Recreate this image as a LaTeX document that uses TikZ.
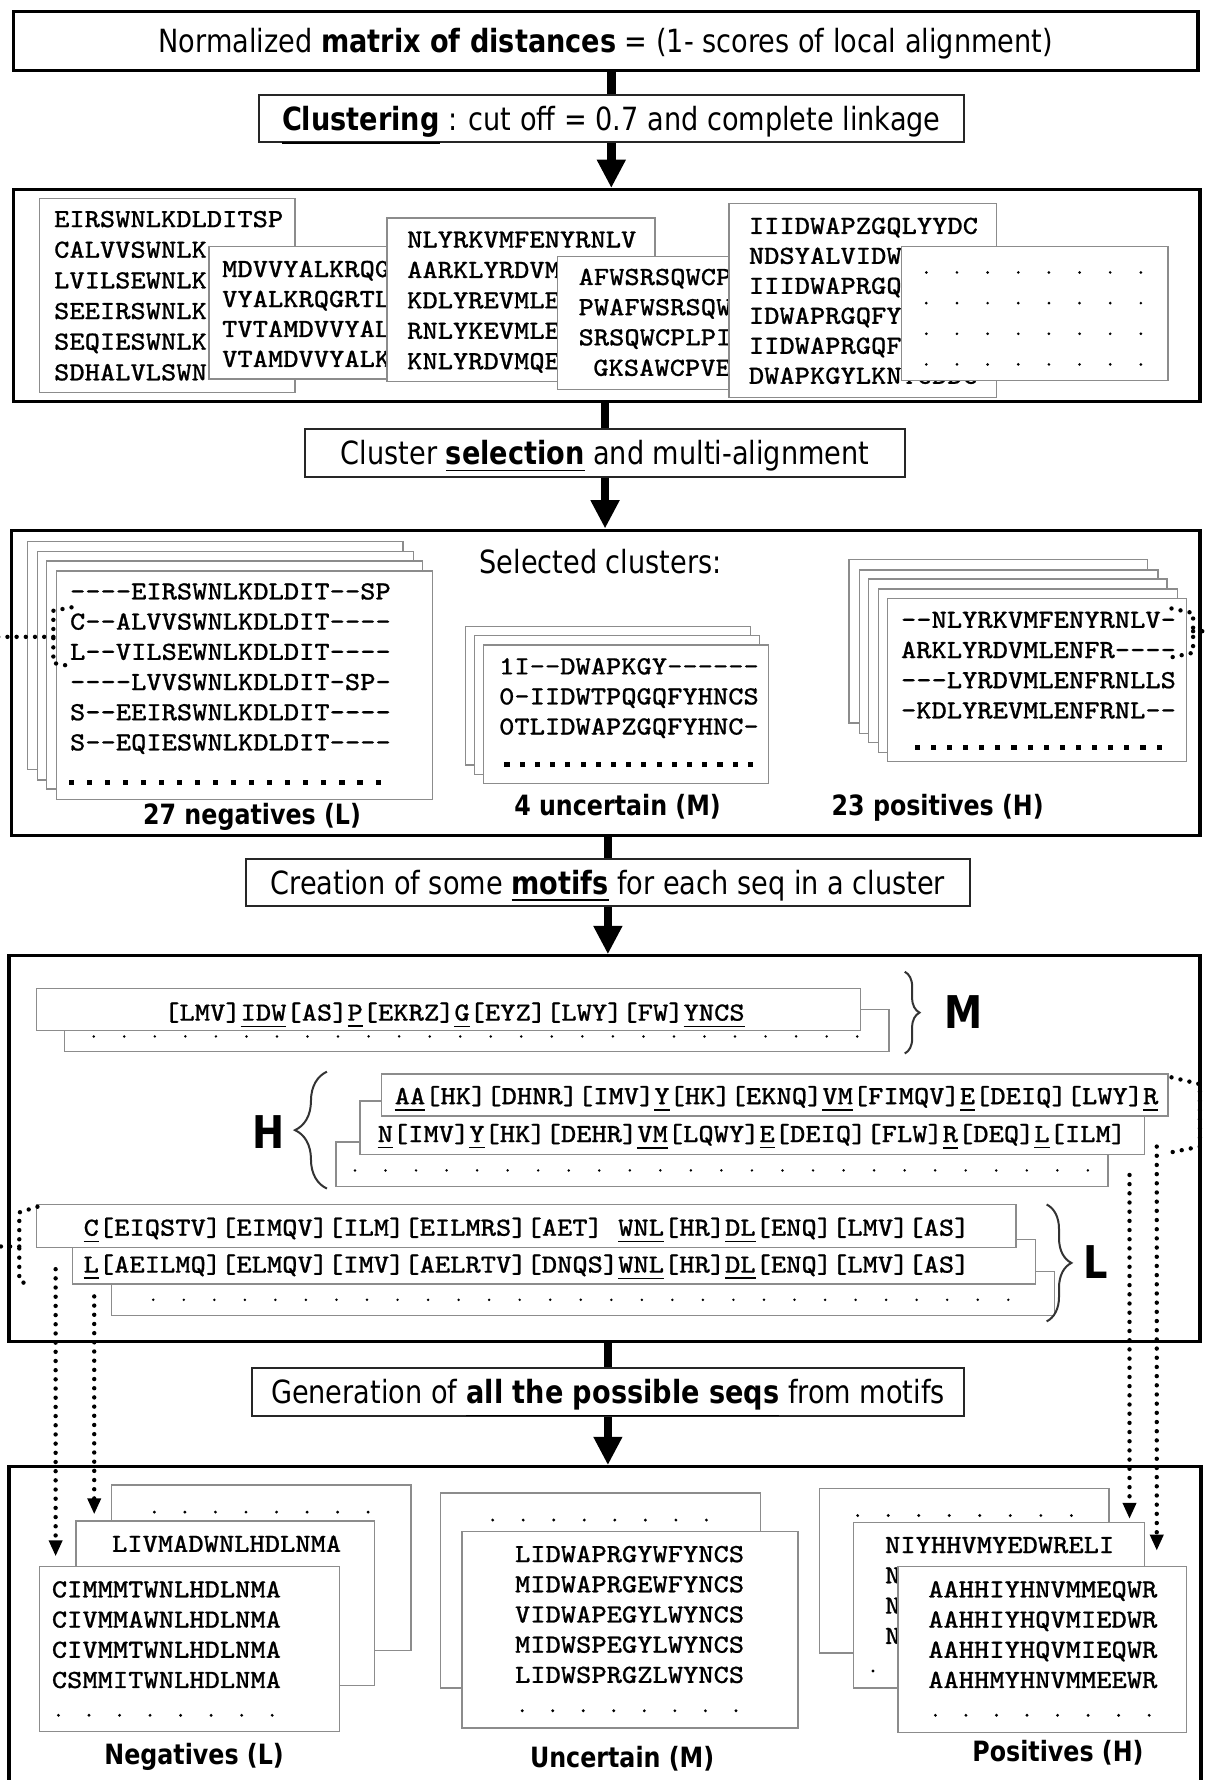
\documentclass[tikz,border=0pt]{standalone}
\usepackage{fontspec}
\setmainfont{DejaVu Sans}[FakeStretch=0.85]
\newfontfamily\seqfont{Latin Modern Mono}[Ligatures=TeXOff, FakeStretch=1.1, FakeBold=0.8]
\usetikzlibrary{arrows.meta,fit,decorations.pathreplacing}

\tikzset{
  frame/.style={draw, line width=0.8pt, inner sep=0pt},
  steptext/.style={inner sep=0pt, font=\fontsize{8}{10}\selectfont, text height=5.8pt, text depth=0pt},
  stepbox/.style={steptext, draw=black!85, line width=0.5pt, fill=white},
  seqbox/.style={draw=black!45, line width=0.35pt, fill=white},
  seq/.style={anchor=west, inner sep=0pt, font=\seqfont\fontsize{6.55}{8}\selectfont, text height=4pt, text depth=0pt},
  grouplabel/.style={inner sep=0pt, font=\bfseries\fontsize{7}{8}\selectfont, text height=5.1pt, text depth=0pt},
  bigletter/.style={inner sep=0pt, font=\bfseries\fontsize{11.3}{13}\selectfont, text height=8.2pt, text depth=0pt},
  stem/.style={line width=2.2pt},
  flow/.style={line width=2.2pt, -{Triangle[width=6.8pt,length=7.1pt]}},
  dotlink/.style={line width=1.1pt, dash pattern=on 0pt off 2.3pt, line cap=round},
  dotarrow/.style={dotlink, -{Triangle[width=3.2pt,length=4pt]}},
  bracegrp/.style={decorate, line width=0.5pt, draw=black!80},
}

\begin{document}
\begin{tikzpicture}[x=0.01cm, y=-0.01cm]
  \useasboundingbox (0,0) rectangle (1061,1568);
  \clip (0,0) rectangle (1061,1568);

  \node[stepbox, line width=0.8pt, draw=black, minimum width=10.43cm, minimum height=0.52cm] (title) at (533.5,36) {Normalized \textbf{matrix of distances} = (1- scores of local alignment)};
  \node[stepbox, minimum width=6.21cm, minimum height=0.41cm] (clust) at (538.5,104.5) {\textbf{\underline{Clustering}} : cut off = 0.7 and complete linkage};
  \node[frame, fit={(12,167) (1057,354)}] (clusters) {};
  \node[stepbox, minimum width=5.28cm, minimum height=0.42cm] (select) at (533,399) {Cluster \textbf{\underline{selection}} and multi-alignment};
  \node[frame, fit={(10,467) (1057,736)}] (selected) {};
  \node[stepbox, minimum width=6.37cm, minimum height=0.41cm] (motifs) at (535.5,777.5) {Creation of some \textbf{\underline{motifs}} for each seq in a cluster};
  \node[frame, fit={(8,842) (1057,1182)}] (motifbox) {};
  \node[stepbox, minimum width=6.27cm, minimum height=0.42cm] (gen) at (535.5,1226) {Generation of \textbf{\underline{all the possible seqs}} from motifs};
  \node[frame, fit={(8,1292) (1058,1580)}] (results) {};

  \draw[stem] (title.south -| clust.north) -- (clust.north);
  \draw[flow] (clust.south) -- (clust.south |- clusters.north);
  \draw[stem] (select.north |- clusters.south) -- (select.north);
  \draw[flow] (select.south) -- (select.south |- selected.north);
  \draw[stem] (motifs.north |- selected.south) -- (motifs.north);
  \draw[flow] (motifs.south) -- (motifs.south |- motifbox.north);
  \draw[stem] (gen.north |- motifbox.south) -- (gen.north);
  \draw[flow] (gen.south) -- (gen.south |- results.north);

  %------ clusters
  \draw[seqbox] (35,175) rectangle (260,346);
  \foreach \s [count=\i from 0] in {EIRSWNLKDLDITSP,CALVVSWNLK,LVILSEWNLK,SEEIRSWNLK,SEQIESWNLK,SDHALVLSWN}
    \node[seq] (ca\i) at (47,193+27*\i) {\s};
  \draw[seqbox] (184,217) rectangle (350,334);
  \foreach \s [count=\i from 0] in {MDVVYALKRQG,VYALKRQGRTL,TVTAMDVVYAL,VTAMDVVYALK}
    \node[seq] (cb\i) at (195,237+26.4*\i) {\s};
  \draw[seqbox] (341,192) rectangle (577,336);
  \foreach \s [count=\i from 0] in {NLYRKVMFENYRNLV,AARKLYRDVM,KDLYREVMLE,RNLYKEVMLE,KNLYRDVMQE}
    \node[seq] (cc\i) at (358,211+26.8*\i) {\s};
  \draw[seqbox] (491,226) rectangle (650,343);
  \foreach \s [count=\i from 0] in {AFWSRSQWCP,PWAFWSRSQW,SRSQWCPLPI}
    \node[seq] (cd\i) at (509,244+26.6*\i) {\s};
  \node[seq] (cd3) at (522,324) {GKSAWCPVE};
  \draw[seqbox] (642,179) rectangle (878,350);
  \foreach \s [count=\i from 0] in {IIIDWAPZGQLYYDC,NDSYALVIDW,IIIDWAPRGQ,IDWAPRGQFY,IIDWAPRGQF,DWAPKGYLKNYCDDC}
    \node[seq] (ce\i) at (659,199+26.4*\i) {\s};
  \draw[seqbox] (794,217) rectangle (1029,335);
  \foreach \r in {0,...,3}
    \foreach \j in {0,...,7}
      \fill (816+27*\j,240+27*\r) circle (1.3);

  %------ selected clusters
  \node[steptext] (selhead) at (529,495) {Selected clusters:};

  \foreach \d in {26,17,9}
    \draw[seqbox] (50-\d,503-\d) rectangle (381-\d,704-\d);
  \draw[seqbox] (50,503) rectangle (381,704);
  \foreach \s [count=\i from 0] in {----EIRSWNLKDLDIT--SP,C--ALVVSWNLKDLDIT----,L--VILSEWNLKDLDIT----,----LVVSWNLKDLDIT-SP-,S--EEIRSWNLKDLDIT----,S--EQIESWNLKDLDIT----}
    \node[seq] (neg\i) at (61,521+26.6*\i) {\s};
  \foreach \i in {0,...,17}
    \fill (60.5+15.9*\i,687) rectangle ++(4.5,4.5);
  \node[grouplabel] (neglab) at (222,717) {27 negatives (L)};

  \foreach \d in {16,8}
    \draw[seqbox] (426-\d,568-\d) rectangle (677-\d,690-\d);
  \draw[seqbox] (426,568) rectangle (677,690);
  \foreach \s [count=\i from 0] in {1I--DWAPKGY------,0-IIDWTPQGQFYHNCS,0TLIDWAPZGQFYHNC-}
    \node[seq] (unc\i) at (439,587+26.5*\i) {\s};
  \foreach \i in {0,...,16}
    \fill (444.4+13.4*\i,671.4) rectangle ++(4.5,4.5);
  \node[grouplabel] (unclab) at (544,709) {4 uncertain (M)};

  \foreach \d in {34,25,17,8}
    \draw[seqbox] (782-\d,527-\d) rectangle (1045-\d,671-\d);
  \draw[seqbox] (782,527) rectangle (1045,671);
  \foreach \s [count=\i from 0] in {--NLYRKVMFENYRNLV-,ARKLYRDVMLENFR----,---LYRDVMLENFRNLLS,-KDLYREVMLENFRNL--}
    \node[seq] (pos\i) at (793,546+26.6*\i) {\s};
  \foreach \i in {0,...,15}
    \fill (805.8+14.2*\i,656.4) rectangle ++(4.5,4.5);
  \node[grouplabel] (poslab) at (826,709) {23 positives (H)};

  \coordinate (negtap) at (-5,561);
  \coordinate (postap) at (1066,556);
  \draw[dotlink] (63,535) -- (47,538) -- (47,584) -- (63,587);
  \draw[dotlink] (47,561) -- (negtap);
  \draw[dotlink] (1032,536) -- (1051,540) -- (1051,575) -- (1032,579);
  \draw[dotlink] (1051,556) -- (postap);

  %------ motifs
  \draw[seqbox] (57,889) rectangle (783,926);
  \foreach \i in {0,...,25}
    \fill (82.6+26.9*\i,913) circle (1.2);
  \draw[seqbox] (32,871) rectangle (758,908);
  \node[seq] (mmot) at (144,892) {[LMV]\underline{IDW}[AS]\underline{P}[EKRZ]\underline{G}[EYZ][LWY][FW]\underline{YNCS}};
  \draw[bracegrp, decoration={brace,amplitude=3.7pt}] (797,856) -- (797,928);
  \node[bigletter] (mlab) at (849,892) {M};

  \draw[seqbox] (296,1006) rectangle (976,1045);
  \foreach \i in {0,...,24}
    \fill (312.7+26.9*\i,1031) circle (1.2);
  \draw[seqbox] (317,970) rectangle (1008,1017);
  \node[seq] (hmot2) at (332,999) {\underline{N}[IMV]\underline{Y}[HK][DEHR]\underline{VM}[LQWY]\underline{E}[DEIQ][FLW]\underline{R}[DEQ]\underline{L}[ILM]};
  \draw[seqbox] (336,946) rectangle (1029,983);
  \node[seq] (hmot1) at (347,965.6) {\underline{AA}[HK][DHNR][IMV]\underline{Y}[HK][EKNQ]\underline{VM}[FIMQV]\underline{E}[DEIQ][LWY]\underline{R}};
  \draw[bracegrp, decoration={brace,amplitude=8pt}] (288,1047) -- (288,944);
  \node[bigletter] (hlab) at (237,997) {H};

  \draw[seqbox] (98,1120) rectangle (929,1159);
  \foreach \i in {0,...,28}
    \fill (135+26.9*\i,1145) circle (1.2);
  \draw[seqbox] (64,1092) rectangle (912,1131);
  \node[seq] (lmot2) at (73,1114) {\underline{L}[AEILMQ][ELMQV][IMV][AELRTV][DNQS]\underline{WNL}[HR]\underline{DL}[ENQ][LMV][AS]};
  \draw[seqbox] (32,1061) rectangle (895,1099);
  \node[seq] (lmot1) at (73,1081.5) {\underline{C}[EIQSTV][EIMQV][ILM][EILMRS][AET] \underline{WNL}[HR]\underline{DL}[ENQ][LMV][AS]};
  \draw[bracegrp, decoration={brace,amplitude=6.2pt}] (922,1061) -- (922,1164);
  \node[bigletter] (llab) at (965,1112) {L};

  \coordinate (ltap) at (-5,1098);
  \draw[dotlink] (33,1063) -- (17,1068) -- (17,1128) -- (27,1133);
  \draw[dotlink] (17,1098) -- (ltap);
  \draw[dotlink] (1032,949) -- (1057,955) -- (1057,1010) -- (1032,1015);

  \coordinate (lsrc1) at (49,1118);
  \coordinate (ldst1) at (49,1371);
  \coordinate (lsrc2) at (83,1142);
  \coordinate (ldst2) at (83,1334);
  \coordinate (hsrc1) at (995,1035);
  \coordinate (hdst1) at (995,1338);
  \coordinate (hsrc2) at (1019,1010);
  \coordinate (hdst2) at (1019,1366);
  \draw[dotarrow] (lsrc1) -- (ldst1);
  \draw[dotarrow] (lsrc2) -- (ldst2);
  \draw[dotarrow] (hsrc1) -- (hdst1);
  \draw[dotarrow] (hsrc2) -- (hdst2);

  %------ generated seqs
  \draw[seqbox] (98,1308) rectangle (362,1454);
  \foreach \i in {0,...,7}
    \fill (136+26.9*\i,1332) circle (1.4);
  \draw[seqbox] (67,1340) rectangle (330,1485);
  \node[seq] (gneg0) at (98,1360) {LIVMADWNLHDLNMA};
  \draw[seqbox] (35,1380) rectangle (299,1525);
  \foreach \s [count=\i from 1] in {CIMMMTWNLHDLNMA,CIVMMAWNLHDLNMA,CIVMMTWNLHDLNMA,CSMMITWNLHDLNMA}
    \node[seq] (gneg\i) at (45,1373.5+26.6*\i) {\s};
  \foreach \i in {0,...,7}
    \fill (51.5+26.9*\i,1511) circle (1.4);
  \node[grouplabel] (gneglab) at (171,1545) {Negatives (L)};

  \draw[seqbox] (388,1315) rectangle (670,1487);
  \foreach \i in {0,...,7}
    \fill (434+26.9*\i,1339) circle (1.4);
  \draw[seqbox] (407,1349) rectangle (703,1522);
  \foreach \s [count=\i from 0] in {LIDWAPRGYWFYNCS,MIDWAPRGEWFYNCS,VIDWAPEGYLWYNCS,MIDWSPEGYLWYNCS,LIDWSPRGZLWYNCS}
    \node[seq] (gunc\i) at (453,1369+26.6*\i) {\s};
  \foreach \i in {0,...,7}
    \fill (460+26.9*\i,1507) circle (1.4);
  \node[grouplabel] (gunclab) at (548,1548) {Uncertain (M)};

  \draw[seqbox] (722,1311) rectangle (977,1456);
  \foreach \i in {0,...,7}
    \fill (755.5+26.9*\i,1335) circle (1.4);
  \draw[seqbox] (752,1341) rectangle (1008,1487);
  \node[seq] (gpos0) at (779,1361) {NIYHHVMYEDWRELI};
  \foreach \i in {1,2,3}
    \node[seq] (gposn\i) at (779,1361+26.7*\i) {N};
  \foreach \i in {0,...,7}
    \fill (769+26.9*\i,1472) circle (1.4);
  \draw[seqbox] (791,1380) rectangle (1045,1526);
  \foreach \s [count=\i from 1] in {AAHHIYHNVMMEQWR,AAHHIYHQVMIEDWR,AAHHIYHQVMIEQWR,AAHHMYHNVMMEEWR}
    \node[seq] (gpos\i) at (817,1373.5+26.6*\i) {\s};
  \foreach \i in {0,...,7}
    \fill (824+26.9*\i,1511) circle (1.4);
  \node[grouplabel] (gposlab) at (932,1543) {Positives (H)};

\end{tikzpicture}
\end{document}
